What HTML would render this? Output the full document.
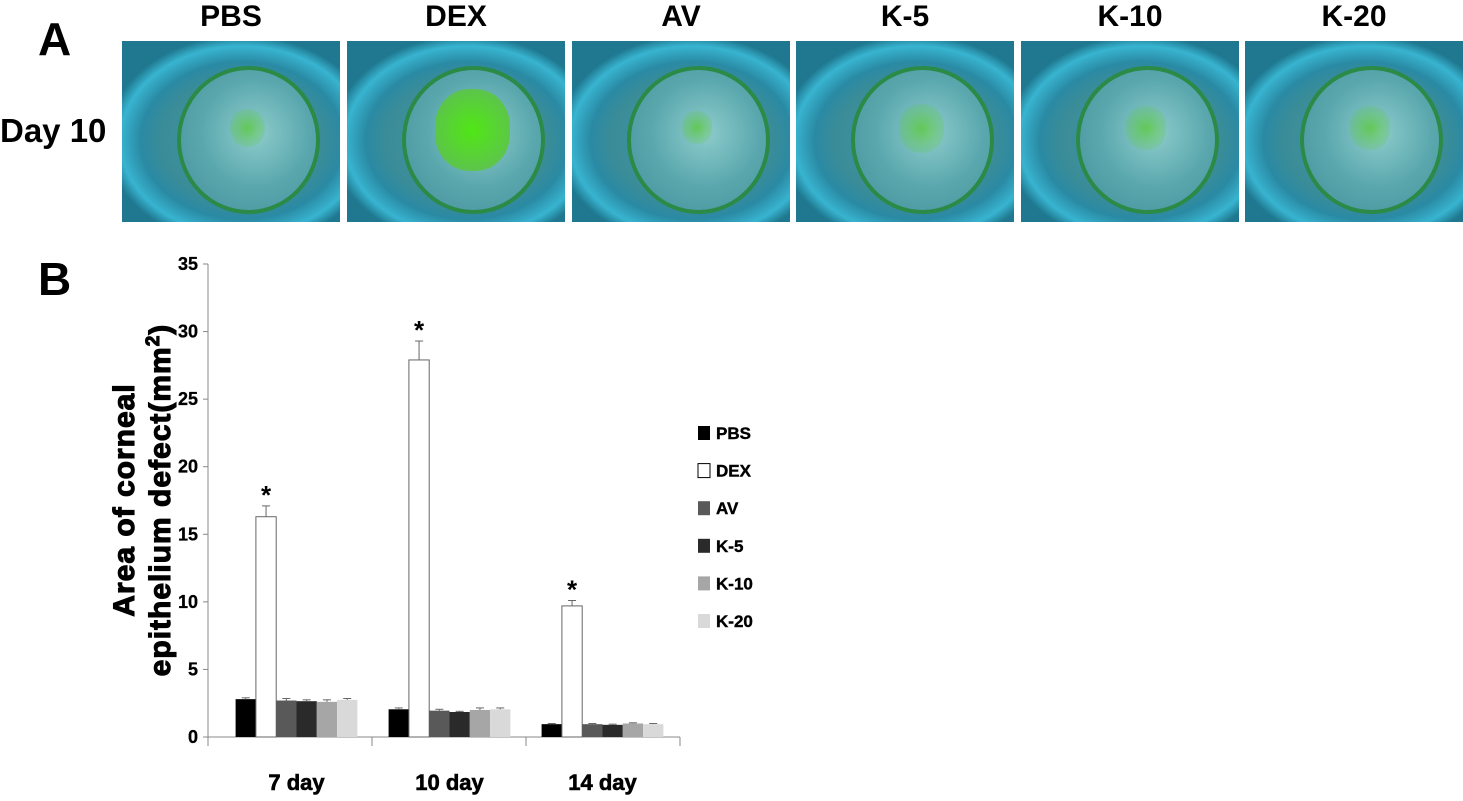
<!DOCTYPE html>
<html><head><meta charset="utf-8"><style>
body{margin:0;width:1463px;height:801px;background:#fff;position:relative;overflow:hidden;font-family:"Liberation Sans",Arial,sans-serif;}
.t{position:absolute;font-weight:bold;color:#000;}
.ph{position:absolute;top:41px;width:218px;height:181px;background:radial-gradient(ellipse 62% 58% at 55% 55%,#4a9aa4 0%,#3a8c98 60%,#2a8aa4 75%,#38b4d0 90%,#1f7890 100%);overflow:hidden;}
.ph .eye{position:absolute;left:55px;top:25px;width:135px;height:140px;border-radius:50%;border:4px solid #2a8a46;background:radial-gradient(circle at 55% 45%,#8fcccc 0%,#5aa8ae 50%,#468f9a 100%);}
.ph .stain{position:absolute;border-radius:45%;}
</style></head><body>
<div class="t" style="left:38px;top:12px;font-size:46px;">A</div>
<div class="t" style="left:0;top:112px;font-size:33px;">Day 10</div>
<div id="photos"></div>
<div class="t" style="left:38px;top:252px;font-size:46px;">B</div>
<svg id="chart" width="1463" height="801" style="position:absolute;left:0;top:0"></svg>
<script>
const groups=["PBS","DEX","AV","K-5","K-10","K-20"];
const photoX=[122,347,572,796,1021,1245];
const stainSize=[0.35,0.75,0.3,0.45,0.4,0.4];
const ph=document.getElementById('photos');
groups.forEach((g,i)=>{
  const lab=document.createElement('div');lab.className='t';
  
  
  lab.style.cssText=`left:${photoX[i]}px;top:0;width:218px;text-align:center;font-size:30px;`;
  lab.textContent=g;ph.appendChild(lab);
  const p=document.createElement('div');p.className='ph';
  
  
  p.style.left=photoX[i]+'px';
  const e=document.createElement('div');e.className='eye';p.appendChild(e);
  const s=document.createElement('div');s.className='stain';
  const w=stainSize[i]*100;
  s.style.cssText=`left:${125-w/2}px;top:${85-w/2}px;width:${w}px;height:${w*1.1}px;background:radial-gradient(circle,rgba(${i==1?'80,230,20,1':'90,200,60,0.8'}) 0%,rgba(90,200,60,${i==1?0.9:0.2}) 70%,rgba(90,200,60,0) 100%);`;
  p.appendChild(s);ph.appendChild(p);
});
</script>
<script>
const categories=["7 day","10 day","14 day"];
const series=["PBS","DEX","AV","K-5","K-10","K-20"];
const colors=["#000000","#ffffff","#595959","#2a2a2a","#a6a6a6","#d9d9d9"];
const v7=[2.8,16.3,2.7,2.65,2.6,2.75];
const v10=[2.05,27.9,1.95,1.85,2.0,2.05];
const v14=[0.95,9.7,0.95,0.9,1.0,0.95];
const e7=[0.1,0.8,0.15,0.1,0.15,0.1];
const e10=[0.1,1.4,0.1,0.05,0.15,0.1];
const e14=[0.05,0.4,0.05,0.05,0.05,0.05];
const yTicks=[0,5,10,15,20,25,30,35];
const values=[v7,v10,v14],errs=[e7,e10,e14];
const svg=document.getElementById('chart'),NS='http://www.w3.org/2000/svg';
const X0=208,X1=680,Y0=737,Y1=264,YMAX=35,B0=220;
const y=v=>Y0-(v/YMAX)*(Y0-Y1);
const cw=153, bw=20.3;
function mk(t,a,txt){const e=document.createElementNS(NS,t);for(const k in a)e.setAttribute(k,a[k]);if(txt!==undefined)e.textContent=txt;svg.appendChild(e);return e;}
let el=mk('line',{x1:X0,y1:Y1,x2:X0,y2:Y0,stroke:'#888','stroke-width':1});

el=mk('line',{x1:X0,y1:Y0,x2:X1,y2:Y0,stroke:'#888','stroke-width':1});

yTicks.forEach(t=>{
  mk('line',{x1:X0-5,y1:y(t),x2:X0,y2:y(t),stroke:'#888'});
  el=mk('text',{x:X0-10,y:y(t)+6,'text-anchor':'end','font-size':18,'font-weight':'bold','font-family':'Liberation Sans',stroke:'#000','stroke-width':0.3},t);
  
});
const bounds=[X0,372,526,X1];
bounds.forEach(bx=>mk('line',{x1:bx,y1:Y0,x2:bx,y2:Y0+9,stroke:'#888'}));
categories.forEach((cat,c)=>{
  const cx=B0+cw*(c+0.5), start=cx-bw*3;
  el=mk('text',{x:cx,y:790,'text-anchor':'middle','font-size':22,'font-weight':'bold','font-family':'Liberation Sans',stroke:'#000','stroke-width':0.6},cat);
  
  series.forEach((s,i)=>{
    const v=values[c][i],er=errs[c][i],bx=start+i*bw;
    el=mk('rect',{x:bx,y:y(v),width:bw,height:Y0-y(v),fill:colors[i],stroke:i==1?'#666':'none','stroke-width':1});
    
    const mx=bx+bw/2;
    mk('line',{x1:mx,y1:y(v),x2:mx,y2:y(v+er),stroke:'#666'});
    mk('line',{x1:mx-4,y1:y(v+er),x2:mx+4,y2:y(v+er),stroke:'#666'});
    if(i==1){el=mk('text',{x:mx,y:y(v+er)-2,'text-anchor':'middle','font-size':26,'font-weight':'bold','font-family':'Liberation Sans'},'*');
      }
  });
});
el=mk('text',{transform:'translate(134,500) rotate(-90)','text-anchor':'middle','font-size':30,'font-weight':'bold','font-family':'Liberation Sans',stroke:'#000','stroke-width':1.1,'letter-spacing':1},'Area of corneal');

el=mk('text',{transform:'translate(170,500) rotate(-90)','text-anchor':'middle','font-size':30,'font-weight':'bold','font-family':'Liberation Sans',stroke:'#000','stroke-width':1.1,'letter-spacing':1});

el.innerHTML='epithelium defect(mm<tspan dy="-11" font-size="19">2</tspan><tspan dy="11">)</tspan>';
series.forEach((s,i)=>{
  const ly=433+i*37.6;
  el=mk('rect',{x:698,y:ly-7,width:12,height:14,fill:colors[i],stroke:i==1?'#000':'none'});
  
  el=mk('text',{x:716,y:ly+6,'font-size':17,'font-weight':'bold','font-family':'Liberation Sans',stroke:'#000','stroke-width':0.4},s);
  
});
</script>
</body></html>
